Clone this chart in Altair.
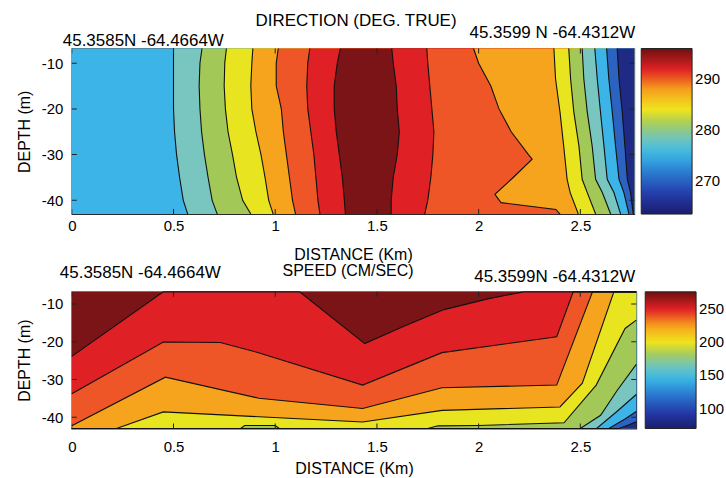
import altair as alt
import pandas as pd

FONT = "Liberation Sans"

# ---------------------------------------------------------------- data
X_MAX_DIR = 2.765          # km, right edge of the direction section
X_MAX_SPD = 2.775          # km, right edge of the speed section
DEPTH_TOP = -6.8           # m
DEPTH_BOT = -43.0          # m
X_TICKS = [0, 0.5, 1, 1.5, 2, 2.5]
Y_TICKS = [-10, -20, -30, -40]

DIR_COLORBAR = [263.5, 296.0]
DIR_CB_LABELS = [270, 280, 290]
SPD_COLORBAR = [70.0, 276.0]
SPD_CB_LABELS = [100, 150, 200, 250]

DIR_TITLE = "DIRECTION (DEG. TRUE)"
SPD_TITLE = "SPEED (CM/SEC)"
LOC_WEST = "45.3585N -64.4664W"
LOC_EAST_DIR = "45.3599 N -64.4312W"
LOC_EAST_SPD = "45.3599N -64.4312W"

# band colours (as printed)
NAVY = "#1f2a84"
BLUE = "#2d63c0"
LBLUE = "#3cb4e8"
TEAL = "#79c5c0"
GREEN = "#a2c957"
YELLOW = "#e8e41f"
ORANGE = "#f6a41d"
ORRED = "#ee5527"
RED = "#df2025"
DRED = "#7b1416"

# colour-bar (washed jet)
JET_FRACS = [0.0, 0.11, 0.25, 0.36, 0.46, 0.55, 0.63, 0.75, 0.87, 1.0]
JET_COLORS = ["#1b1e6c", "#2436a6", "#2a7bd0", "#38b6e6", "#72c6bc",
              "#a8cc58", "#efe41e", "#f6a21c", "#e32225", "#6e1010"]

# ---- DIRECTION: contour lines, km position at each depth (west -> east)
DIR_DEPTH = [-6.8, -10, -15, -20, -25, -30, -35, -40, -43]
dir_a_km = [0.50, 0.50, 0.50, 0.50, 0.505, 0.515, 0.53, 0.548, 0.57]
dir_b_km = [0.64, 0.63, 0.626, 0.63, 0.638, 0.652, 0.67, 0.69, 0.715]
dir_c_km = [0.76, 0.752, 0.749, 0.755, 0.768, 0.79, 0.81, 0.84, 0.88]
dir_d_km = [0.89, 0.885, 0.88, 0.885, 0.905, 0.93, 0.95, 0.968, 0.99]
dir_e_km = [1.015, 1.005, 1.005, 1.03, 1.04, 1.055, 1.07, 1.085, 1.10]
dir_f_km = [1.17, 1.16, 1.155, 1.16, 1.175, 1.19, 1.20, 1.21, 1.22]
dir_g_km = [1.32, 1.305, 1.29, 1.29, 1.30, 1.315, 1.33, 1.34, 1.345]
dir_h_km = [1.573, 1.58, 1.595, 1.60, 1.61, 1.60, 1.58, 1.57, 1.57]
dir_i_km = [1.745, 1.75, 1.76, 1.77, 1.78, 1.775, 1.765, 1.75, 1.735]
DIR_J_DEPTH = [-6.8, -10, -15, -20, -25, -30, -31, -35, -38.7, -40.5, -42, -43]
dir_j_km = [1.975, 2.0, 2.06, 2.10, 2.16, 2.245, 2.263, 2.17, 2.08, 2.11, 2.38, 2.40]
DIR_EAST_DEPTH = [-6.8, -13.4, -20.7, -28.1, -35.4, -38.3, -43]
dir_k_km = [2.37, 2.378, 2.40, 2.418, 2.435, 2.45, 2.49]
dir_l_km = [2.443, 2.452, 2.468, 2.493, 2.509, 2.534, 2.575]
dir_m_km = [2.509, 2.517, 2.534, 2.558, 2.575, 2.608, 2.649]
dir_n_km = [2.571, 2.583, 2.599, 2.616, 2.632, 2.665, 2.698]
dir_o_km = [2.629, 2.64, 2.657, 2.673, 2.69, 2.714, 2.739]
dir_p_km = [2.681, 2.69, 2.706, 2.719, 2.731, 2.747, 2.76]

# (depths, km, colour east of the line) in painting order
DIR_BACKGROUND = LBLUE
DIR_CONTOURS = [
    (DIR_DEPTH, dir_a_km, TEAL), (DIR_DEPTH, dir_b_km, GREEN),
    (DIR_DEPTH, dir_c_km, YELLOW), (DIR_DEPTH, dir_d_km, ORANGE),
    (DIR_DEPTH, dir_e_km, ORRED), (DIR_DEPTH, dir_f_km, RED),
    (DIR_DEPTH, dir_g_km, DRED), (DIR_DEPTH, dir_h_km, RED),
    (DIR_DEPTH, dir_i_km, ORRED), (DIR_J_DEPTH, dir_j_km, ORANGE),
    (DIR_EAST_DEPTH, dir_k_km, YELLOW), (DIR_EAST_DEPTH, dir_l_km, GREEN),
    (DIR_EAST_DEPTH, dir_m_km, TEAL), (DIR_EAST_DEPTH, dir_n_km, LBLUE),
    (DIR_EAST_DEPTH, dir_o_km, BLUE), (DIR_EAST_DEPTH, dir_p_km, NAVY),
]

# ---- SPEED: contour lines, depth at each km (slowest level first)
spd_q1_km = [0, 2.69, 2.74, 2.775]
spd_q1_dep = [-43, -43, -42, -41.2]
spd_q2_km = [0, 2.64, 2.72, 2.775]
spd_q2_dep = [-43, -43, -40.5, -38.5]
spd_q3_km = [0, 2.58, 2.68, 2.775]
spd_q3_dep = [-43, -43, -38.5, -34]
spd_q4_km = [0, 2.5, 2.6, 2.68, 2.775]
spd_q4_dep = [-43, -43, -39.5, -33, -26]
spd_q5_km = [0, 0.83, 0.85, 1.0, 1.02, 1.75, 1.8, 2.0, 2.42, 2.578, 2.72, 2.775]
spd_q5_dep = [-43, -43, -42.2, -42.2, -43, -43, -42.3, -42.2, -41.5, -31.5, -16.5, -14.3]
spd_q6_km = [0, 0.22, 0.45, 0.92, 1.43, 1.82, 2.40, 2.51, 2.665, 2.775]
spd_q6_dep = [-43, -43, -38.6, -39.9, -41.3, -38.2, -37.3, -31, -6.8, -6.8]
spd_q7_km = [0, 0.46, 0.92, 1.43, 1.82, 2.384, 2.56, 2.775]
spd_q7_dep = [-42.3, -29.4, -35, -37.7, -32.2, -31.5, -6.8, -6.8]
spd_q8_km = [0, 0.45, 0.73, 0.91, 1.43, 1.82, 2.384, 2.465, 2.775]
spd_q8_dep = [-33.8, -20.1, -20.2, -22.8, -31.5, -22.9, -18.7, -6.8, -6.8]
spd_q9_km = [0, 0.45, 1.12, 1.44, 1.63, 1.83, 2.05, 2.22, 2.775]
spd_q9_dep = [-23.9, -6.8, -6.8, -20.5, -16, -11.5, -8.6, -6.8, -6.8]

SPD_BACKGROUND = NAVY
SPD_CONTOURS = [  # (km, depth, colour above the line)
    (spd_q1_km, spd_q1_dep, BLUE), (spd_q2_km, spd_q2_dep, LBLUE),
    (spd_q3_km, spd_q3_dep, TEAL), (spd_q4_km, spd_q4_dep, GREEN),
    (spd_q5_km, spd_q5_dep, YELLOW), (spd_q6_km, spd_q6_dep, ORANGE),
    (spd_q7_km, spd_q7_dep, ORRED), (spd_q8_km, spd_q8_dep, RED),
    (spd_q9_km, spd_q9_dep, DRED),
]


# ---------------------------------------------------------------- build
def build_panel(xmax, width, height, background, contours, vertical_lines,
                cb_range, cb_labels, cb_offset, xlab_pad, xtitle_pad, texts):
    xs = alt.Scale(domain=[0, xmax], nice=False, zero=False)
    ys = alt.Scale(domain=[DEPTH_BOT, DEPTH_TOP], nice=False, zero=False)
    xa = alt.Axis(title="DISTANCE (Km)", values=X_TICKS, labelExpr="'' + datum.value",
                  labelPadding=xlab_pad, titlePadding=xtitle_pad, grid=False,
                  domain=False, ticks=False, labelFlush=False, labelOverlap=False)
    ya = alt.Axis(title="DEPTH (m)", values=Y_TICKS, labelExpr="'' + datum.value",
                  labelPadding=9, titlePadding=9, grid=False, domain=False,
                  ticks=False, labelFlush=False, labelOverlap=False)

    def X(f):
        return alt.X(f, type="quantitative", scale=xs, axis=xa, stack=None)

    def Y(f):
        return alt.Y(f, type="quantitative", scale=ys, axis=ya, stack=None)

    def XD(v):
        return alt.XDatum(v, type="quantitative", scale=xs, axis=xa)

    def YD(v):
        return alt.YDatum(v, type="quantitative", scale=ys, axis=ya)

    one = pd.DataFrame({"k": [0]})
    layers = [alt.Chart(one).mark_rect(color=background).encode(
        x=XD(0), x2=alt.datum(xmax), y=YD(DEPTH_BOT), y2=alt.datum(DEPTH_TOP))]

    tables = []
    for c in contours:
        if vertical_lines:
            depths, kms, col = c
        else:
            kms, depths, col = c
        df = pd.DataFrame({"km": kms, "depth": depths, "i": list(range(len(kms)))})
        tables.append(df)
        if vertical_lines:
            layers.append(alt.Chart(df).mark_area(orient="horizontal", color=col).encode(
                y=Y("depth"), x=X("km"), x2=alt.datum(xmax)))
        else:
            layers.append(alt.Chart(df).mark_area(orient="vertical", color=col).encode(
                x=X("km"), y=Y("depth"), y2=alt.datum(DEPTH_TOP)))
    for df in tables:
        layers.append(alt.Chart(df).mark_line(color="#111111", strokeWidth=1.1).encode(
            x=X("km"), y=Y("depth"), order=alt.Order("i:Q")))

    xt = pd.DataFrame({"t": X_TICKS})
    yt = pd.DataFrame({"t": Y_TICKS})
    for yv in (DEPTH_BOT, DEPTH_TOP):
        layers.append(alt.Chart(xt).mark_tick(orient="vertical", clip=True, size=10,
                                              thickness=1, color="#222222", opacity=1).encode(
            x=X("t"), y=YD(yv)))
    for xv in (0, xmax):
        layers.append(alt.Chart(yt).mark_tick(orient="horizontal", clip=True, size=10,
                                              thickness=1, color="#222222", opacity=1).encode(
            y=Y("t"), x=XD(xv)))

    for s, xv, dx, dy, align, fs in texts:
        layers.append(alt.Chart(pd.DataFrame({"s": [s]})).mark_text(
            align=align, baseline="middle", dx=dx, dy=dy, fontSize=fs, font=FONT,
            color="black").encode(x=XD(xv), y=YD(DEPTH_TOP), text="s:N"))

    lo, hi = cb_range
    stops = [lo + f * (hi - lo) for f in JET_FRACS]
    layers.append(alt.Chart(pd.DataFrame({"v": [lo, hi]})).mark_point(opacity=0, size=1).encode(
        x=XD(xmax / 2), y=YD(-25),
        color=alt.Color("v:Q", scale=alt.Scale(domain=stops, range=JET_COLORS, interpolate="rgb"),
                        legend=alt.Legend(title=None, values=cb_labels, orient="right",
                                          offset=cb_offset, gradientLength=height,
                                          gradientThickness=51, padding=0, labelFontSize=15,
                                          labelOffset=3, gradientStrokeColor="#222222",
                                          gradientStrokeWidth=1, direction="vertical",
                                          labelOverlap=False, labelFont=FONT,
                                          labelColor="black"))))
    return alt.layer(*layers).properties(width=width, height=height)


top = build_panel(
    X_MAX_DIR, 564, 166, DIR_BACKGROUND, DIR_CONTOURS, True,
    DIR_COLORBAR, DIR_CB_LABELS, 7, 4.5, 13,
    [(DIR_TITLE, X_MAX_DIR / 2, 3, -28, "center", 17),
     (LOC_WEST, 0, -9, -8, "left", 17),
     (LOC_EAST_DIR, X_MAX_DIR, 1, -16, "right", 17)])

bottom = build_panel(
    X_MAX_SPD, 566, 137, SPD_BACKGROUND, SPD_CONTOURS, False,
    SPD_COLORBAR, SPD_CB_LABELS, 9, 11.5, 5.5,
    [(SPD_TITLE, X_MAX_SPD / 2, -6, -21, "center", 16),
     (LOC_WEST, 0, -12, -19, "left", 17),
     (LOC_EAST_SPD, X_MAX_SPD, -1, -14.5, "right", 17)])

chart = alt.vconcat(top, bottom, spacing=-2).resolve_scale(
    color="independent").properties(
    padding={"left": 15, "top": 10, "right": 0, "bottom": 0}
).configure_view(stroke="#2a2a2a", strokeWidth=1.2).configure_axis(
    labelFont=FONT, titleFont=FONT, labelFontSize=15, titleFontSize=16,
    titleFontWeight="normal", labelColor="black", titleColor="black")

chart.save("out.html", embed_options={"renderer": "svg", "actions": False})
